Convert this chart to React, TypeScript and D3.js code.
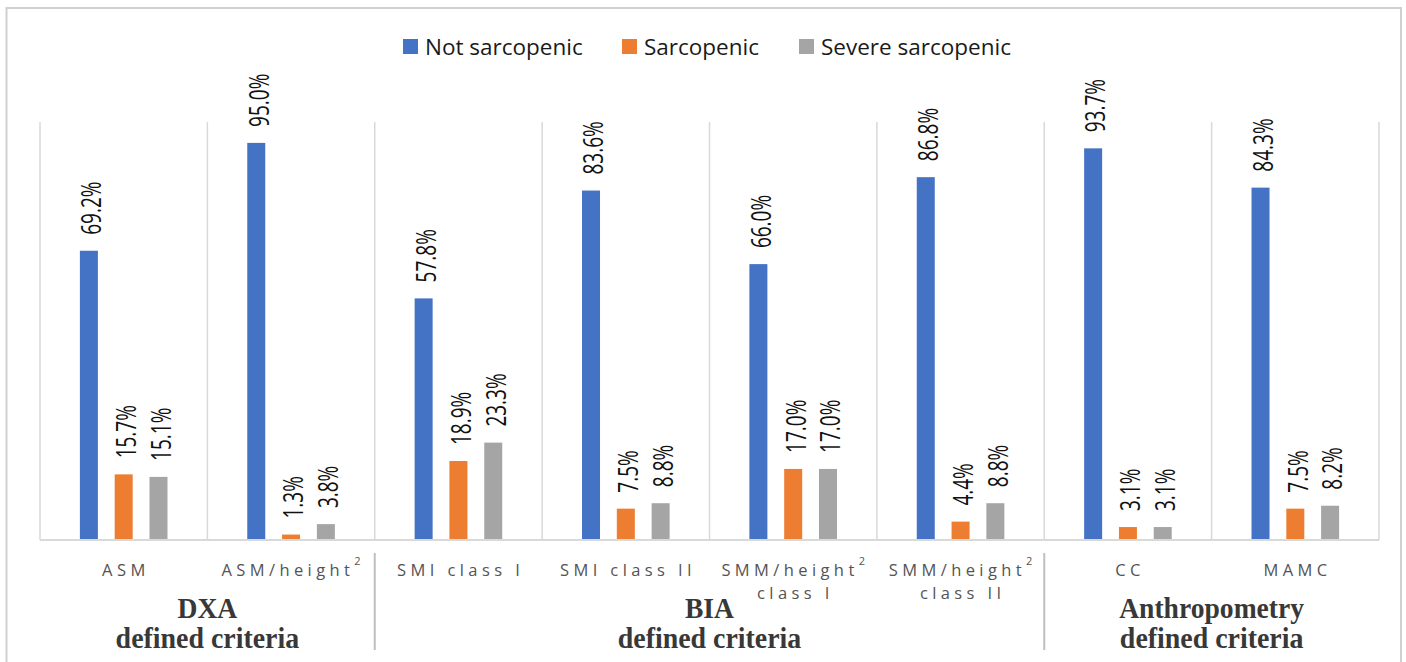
import React from "react";
import * as d3 from "d3";

// Prevalence (%) of sarcopenia status under each diagnostic criterion
const categories = [
  "ASM",
  "ASM/height²",
  "SMI class I",
  "SMI class II",
  "SMM/height² class I",
  "SMM/height² class II",
  "CC",
  "MAMC",
];
const categoryLines = [
  ["ASM"],
  ["ASM/height²"],
  ["SMI class I"],
  ["SMI class II"],
  ["SMM/height²", "class I"],
  ["SMM/height²", "class II"],
  ["CC"],
  ["MAMC"],
];
const seriesNames = ["Not sarcopenic", "Sarcopenic", "Severe sarcopenic"];
const notSarcopenic = [69.2, 95.0, 57.8, 83.6, 66.0, 86.8, 93.7, 84.3];
const sarcopenic = [15.7, 1.3, 18.9, 7.5, 17.0, 4.4, 3.1, 7.5];
const severeSarcopenic = [15.1, 3.8, 23.3, 8.8, 17.0, 8.8, 3.1, 8.2];
const seriesColors = ["#4472C4", "#ED7D31", "#A5A5A5"];

// Method groups spanning category ranges (first, last index)
const groupTitles = ["DXA", "BIA", "Anthropometry"];
const groupSubtitles = ["defined criteria", "defined criteria", "defined criteria"];
const groupSpans: [number, number][] = [
  [0, 1],
  [2, 5],
  [6, 7],
];

const W = 1406;
const H = 662;
const plot = { left: 40, right: 1379, top: 122, bottom: 540 };

function SupText({ text, x, y }: { text: string; x: number; y: number }) {
  const parts = text.split("²");
  return (
    <text
      x={x}
      y={y}
      textAnchor="middle"
      fontFamily="'Open Sans', sans-serif"
      fontSize={16.5}
      letterSpacing={4.4}
      fill="#545454"
    >
      {parts[0]}
      {parts.length > 1 && (
        <tspan fontSize={11} dy={-11}>
          2
        </tspan>
      )}
    </text>
  );
}

export default function App() {
  const values = [notSarcopenic, sarcopenic, severeSarcopenic];

  const x = d3
    .scaleBand<string>()
    .domain(categories)
    .range([plot.left, plot.right])
    .paddingInner(0)
    .paddingOuter(0);
  const xInner = d3.scalePoint<string>().domain(seriesNames).range([-34.8, 34.8]);
  const y = d3.scaleLinear().domain([0, 100]).range([plot.bottom, plot.top]);
  const barW = 18;
  const bw = x.bandwidth();

  const gridXs = d3.range(categories.length + 1).map((i) => plot.left + i * bw);

  const legendX = [403, 622, 799];

  const titleStyle = {
    fontFamily: "'Liberation Serif', 'Times New Roman', serif",
    fontWeight: "bold" as const,
    fontSize: 30,
    fill: "#383838",
  };

  return (
    <svg
      width={W}
      height={H}
      style={{ position: "absolute", left: 0, top: 0, background: "#fff" }}
    >
      <rect x={0} y={0} width={W} height={H} fill="#fff" />
      {/* outer frame */}
      <rect
        x={6.5}
        y={8}
        width={1394.5}
        height={H + 10}
        fill="none"
        stroke="#d0d0d0"
        strokeWidth={2}
      />

      {/* legend */}
      {seriesNames.map((s, i) => (
        <g key={s} transform={`translate(${legendX[i]},47)`}>
          <rect x={0} y={-8} width={15} height={15} fill={seriesColors[i]} />
          <text
            x={22}
            y={0}
            dy="0.36em"
            fontFamily="'Open Sans', sans-serif"
            fontSize={22.5}
            fill="#1a1a1a"
          >
            {s}
          </text>
        </g>
      ))}

      {/* category grid lines */}
      {gridXs.map((gx, i) => (
        <line
          key={i}
          x1={gx}
          x2={gx}
          y1={plot.top}
          y2={plot.bottom}
          stroke="#d9d9d9"
          strokeWidth={1.5}
        />
      ))}

      {/* bars and value labels */}
      {categories.map((c, ci) =>
        seriesNames.map((s, si) => {
          const v = values[si][ci];
          const cx = (x(c) as number) + bw / 2 + (xInner(s) as number);
          const yTop = y(v);
          return (
            <g key={c + s}>
              <rect
                x={cx - barW / 2}
                y={yTop}
                width={barW}
                height={plot.bottom - yTop}
                fill={seriesColors[si]}
              />
              <text
                transform={`translate(${cx + 3},${yTop - 16}) rotate(-90) scale(1,1.4)`}
                dy="0.35em"
                fontFamily="'Open Sans', sans-serif"
                fontSize={19}
                fill="#111"
              >
                {v.toFixed(1)}%
              </text>
            </g>
          );
        })
      )}

      {/* baseline */}
      <line
        x1={plot.left}
        x2={plot.right}
        y1={plot.bottom}
        y2={plot.bottom}
        stroke="#d9d9d9"
        strokeWidth={2}
      />

      {/* category labels */}
      {categories.map((c, ci) => {
        const cx = (x(c) as number) + bw / 2 + 2.2;
        return categoryLines[ci].map((line, li) => (
          <SupText key={c + li} text={line} x={cx} y={576 + li * 23} />
        ));
      })}

      {/* group separators */}
      {groupSpans.slice(1).map(([first], i) => {
        const sx = x(categories[first]) as number;
        return (
          <line
            key={i}
            x1={sx}
            x2={sx}
            y1={553}
            y2={650}
            stroke="#bfbfbf"
            strokeWidth={2}
          />
        );
      })}

      {/* group titles */}
      {groupSpans.map(([a, b], gi) => {
        const gx0 = x(categories[a]) as number;
        const gx1 = (x(categories[b]) as number) + bw;
        const gc = (gx0 + gx1) / 2;
        return (
          <g key={gi}>
            <text
              transform={`translate(${gc},618) scale(0.92,1)`}
              textAnchor="middle"
              {...titleStyle}
            >
              {groupTitles[gi]}
            </text>
            <text
              transform={`translate(${gc},648) scale(0.93,1)`}
              textAnchor="middle"
              {...titleStyle}
            >
              {groupSubtitles[gi]}
            </text>
          </g>
        );
      })}
    </svg>
  );
}
